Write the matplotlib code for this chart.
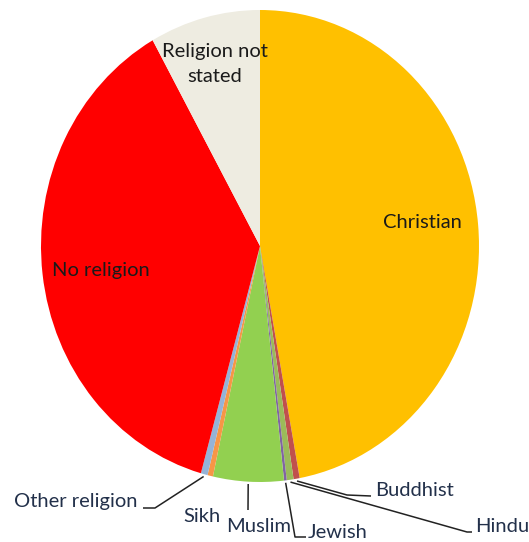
import numpy as np
import matplotlib.pyplot as plt

plt.rcParams['font.family'] = ['Lato', 'DejaVu Sans']

# Religion shares (%), clockwise from twelve o'clock
religions = ["Christian", "Buddhist", "Hindu", "Jewish", "Muslim", "Sikh",
             "Other religion", "No religion", "Religion not stated"]
shares = [47.1, 0.45, 0.5, 0.2, 5.2, 0.4, 0.5, 37.5, 8.15]
colours = ["#FFC000", "#C0504D", "#9BBB59", "#8064A2", "#92D050", "#F79646",
           "#95B3D7", "#FF0000", "#EEECE1"]

W, H = 529, 542
CX, CY = 260, 246      # pie centre (pixels)
RX, RY = 219, 236      # the pie is drawn slightly squashed


def px(x, y):
    # pixel position -> data coordinates
    return (x - CX) / RX, (CY - y) / RY


fig = plt.figure(figsize=(W / 100, H / 100), dpi=100)
ax = fig.add_axes([0, 0, 1, 1])
wedges, _ = ax.pie(shares, colors=colours, startangle=90, counterclock=False,
                   wedgeprops=dict(linewidth=0))
ax.set_aspect('auto')
ax.set_xlim(px(0, 0)[0], px(W, 0)[0])
ax.set_ylim(px(0, H)[1], px(0, 0)[1])
ax.axis('off')

# mid angle of each wedge, used for the leader lines
frac = np.array(shares) / sum(shares)
cum = np.cumsum(frac) - frac / 2
mid = np.deg2rad(90 - 360 * cum)

txt = '#1a1a1a'
out = '#22304a'
fs = 14.5

# labels inside the big slices
ax.text(*px(422, 222), "Christian", ha='center', va='center', fontsize=fs, color=txt)
ax.text(*px(101, 270), "No religion", ha='center', va='center', fontsize=fs, color=txt)
ax.text(*px(215, 64), "Religion not\nstated", ha='center', va='center', fontsize=fs,
        color=txt, linespacing=1.6)


def leader(i, pts, label, tx, ty, ha='left'):
    x0, y0 = np.cos(mid[i]) * 1.01, np.sin(mid[i]) * 1.01
    xs = [x0] + [px(*p)[0] for p in pts]
    ys = [y0] + [px(*p)[1] for p in pts]
    ax.plot(xs, ys, color='#222222', lw=1.1, solid_capstyle='butt')
    ax.text(*px(tx, ty), label, ha=ha, va='center', fontsize=fs, color=out)


leader(1, [(347, 495), (371, 496)], "Buddhist", 375, 490)
leader(2, [(467, 532), (472, 532)], "Hindu", 475, 527)
leader(3, [(295, 537), (306, 537)], "Jewish", 308, 532)
leader(4, [(248, 510)], "Muslim", 226, 526)
ax.text(*px(183, 517), "Sikh", ha='left', va='center', fontsize=fs, color=out)
leader(6, [(155, 508), (143, 508)], "Other religion", 138, 501, ha='right')

fig.savefig("out.png", dpi=100)
